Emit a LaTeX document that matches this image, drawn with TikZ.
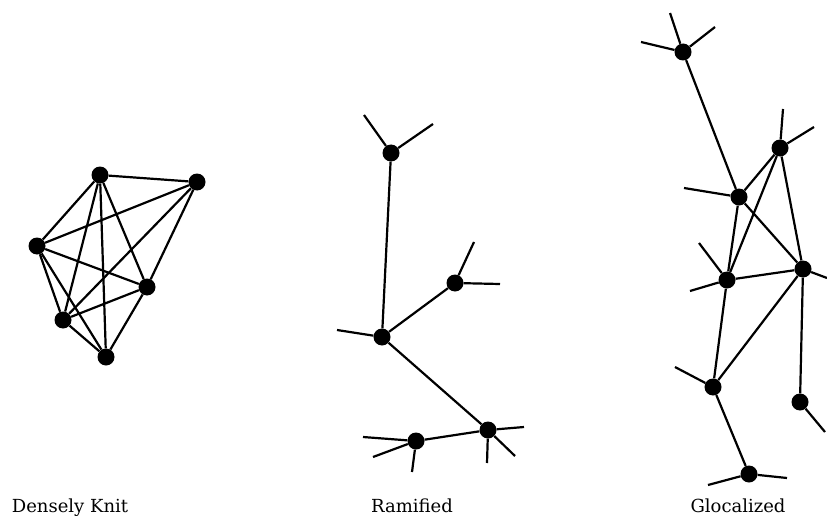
\documentclass[tikz,border=0pt]{standalone}
\usepackage{fontspec}
\setmainfont{DejaVu Serif}
\begin{document}
\begin{tikzpicture}[x=1pt,y=-1pt,
  dot/.style={circle,fill=black,inner sep=0pt,minimum size=17pt},
  edge/.style={line width=2.2pt},
  lbl/.style={anchor=base,font=\fontsize{18}{20}\selectfont,inner sep=0pt}]
\useasboundingbox (0,0) rectangle (827,516);
% ---------- Densely Knit ----------
\node[dot] (A) at (100,175) {};
\node[dot] (B) at (197,182) {};
\node[dot] (C) at (37,246) {};
\node[dot] (D) at (147,287) {};
\node[dot] (E) at (63,320) {};
\node[dot] (F) at (106,357) {};
\foreach \u/\v in {A/B,A/C,A/D,A/E,A/F,B/C,B/D,B/E,C/D,C/E,C/F,D/E,D/F,E/F}
  \draw[edge] (\u) -- (\v);
% ---------- Ramified ----------
\node[dot] (R1) at (391,153) {};
\node[dot] (R2) at (455,283) {};
\node[dot] (R3) at (382,337) {};
\node[dot] (R4) at (416,441) {};
\node[dot] (R5) at (488,430) {};
\coordinate (r1a) at (364,115);
\coordinate (r1b) at (433,124);
\coordinate (r2a) at (474,242);
\coordinate (r2b) at (500,284);
\coordinate (r3a) at (337,330);
\coordinate (r4a) at (363,437);
\coordinate (r4b) at (373,457);
\coordinate (r4c) at (412,472);
\coordinate (r5a) at (524,427);
\coordinate (r5b) at (515,456);
\coordinate (r5c) at (487,463);
\foreach \u/\v in {R1/R3,R2/R3,R3/R5,R4/R5,R1/r1a,R1/r1b,R2/r2a,R2/r2b,R3/r3a,R4/r4a,R4/r4b,R4/r4c,R5/r5a,R5/r5b,R5/r5c}
  \draw[edge] (\u) -- (\v);
% ---------- Glocalized ----------
\node[dot] (G1) at (683,52) {};
\node[dot] (G2) at (780,148) {};
\node[dot] (G3) at (739,197) {};
\node[dot] (G4) at (727,280) {};
\node[dot] (G5) at (803,269) {};
\node[dot] (G6) at (713,387) {};
\node[dot] (G7) at (800,402) {};
\node[dot] (G8) at (749,474) {};
\coordinate (g1a) at (670,13);
\coordinate (g1b) at (715,27);
\coordinate (g1c) at (641,42);
\coordinate (g2a) at (783,109);
\coordinate (g2b) at (814,127);
\coordinate (g3a) at (684,188);
\coordinate (g4a) at (699,243);
\coordinate (g4b) at (690,291);
\coordinate (g5a) at (827,278);
\coordinate (g6a) at (675,367);
\coordinate (g7a) at (825,432);
\coordinate (g8a) at (708,485);
\coordinate (g8b) at (787,478);
\foreach \u/\v in {G1/G3,G3/G2,G3/G4,G3/G5,G2/G4,G2/G5,G4/G5,G4/G6,G5/G6,G5/G7,G6/G8,
  G1/g1a,G1/g1b,G1/g1c,G2/g2a,G2/g2b,G3/g3a,G4/g4a,G4/g4b,G5/g5a,G6/g6a,G7/g7a,G8/g8a,G8/g8b}
  \draw[edge] (\u) -- (\v);
% ---------- Labels ----------
\node[lbl] (l1) at (70,512) {Densely Knit};
\node[lbl] (l2) at (412,512) {Ramified};
\node[lbl] (l3) at (738,512) {Glocalized};
\end{tikzpicture}
\end{document}
